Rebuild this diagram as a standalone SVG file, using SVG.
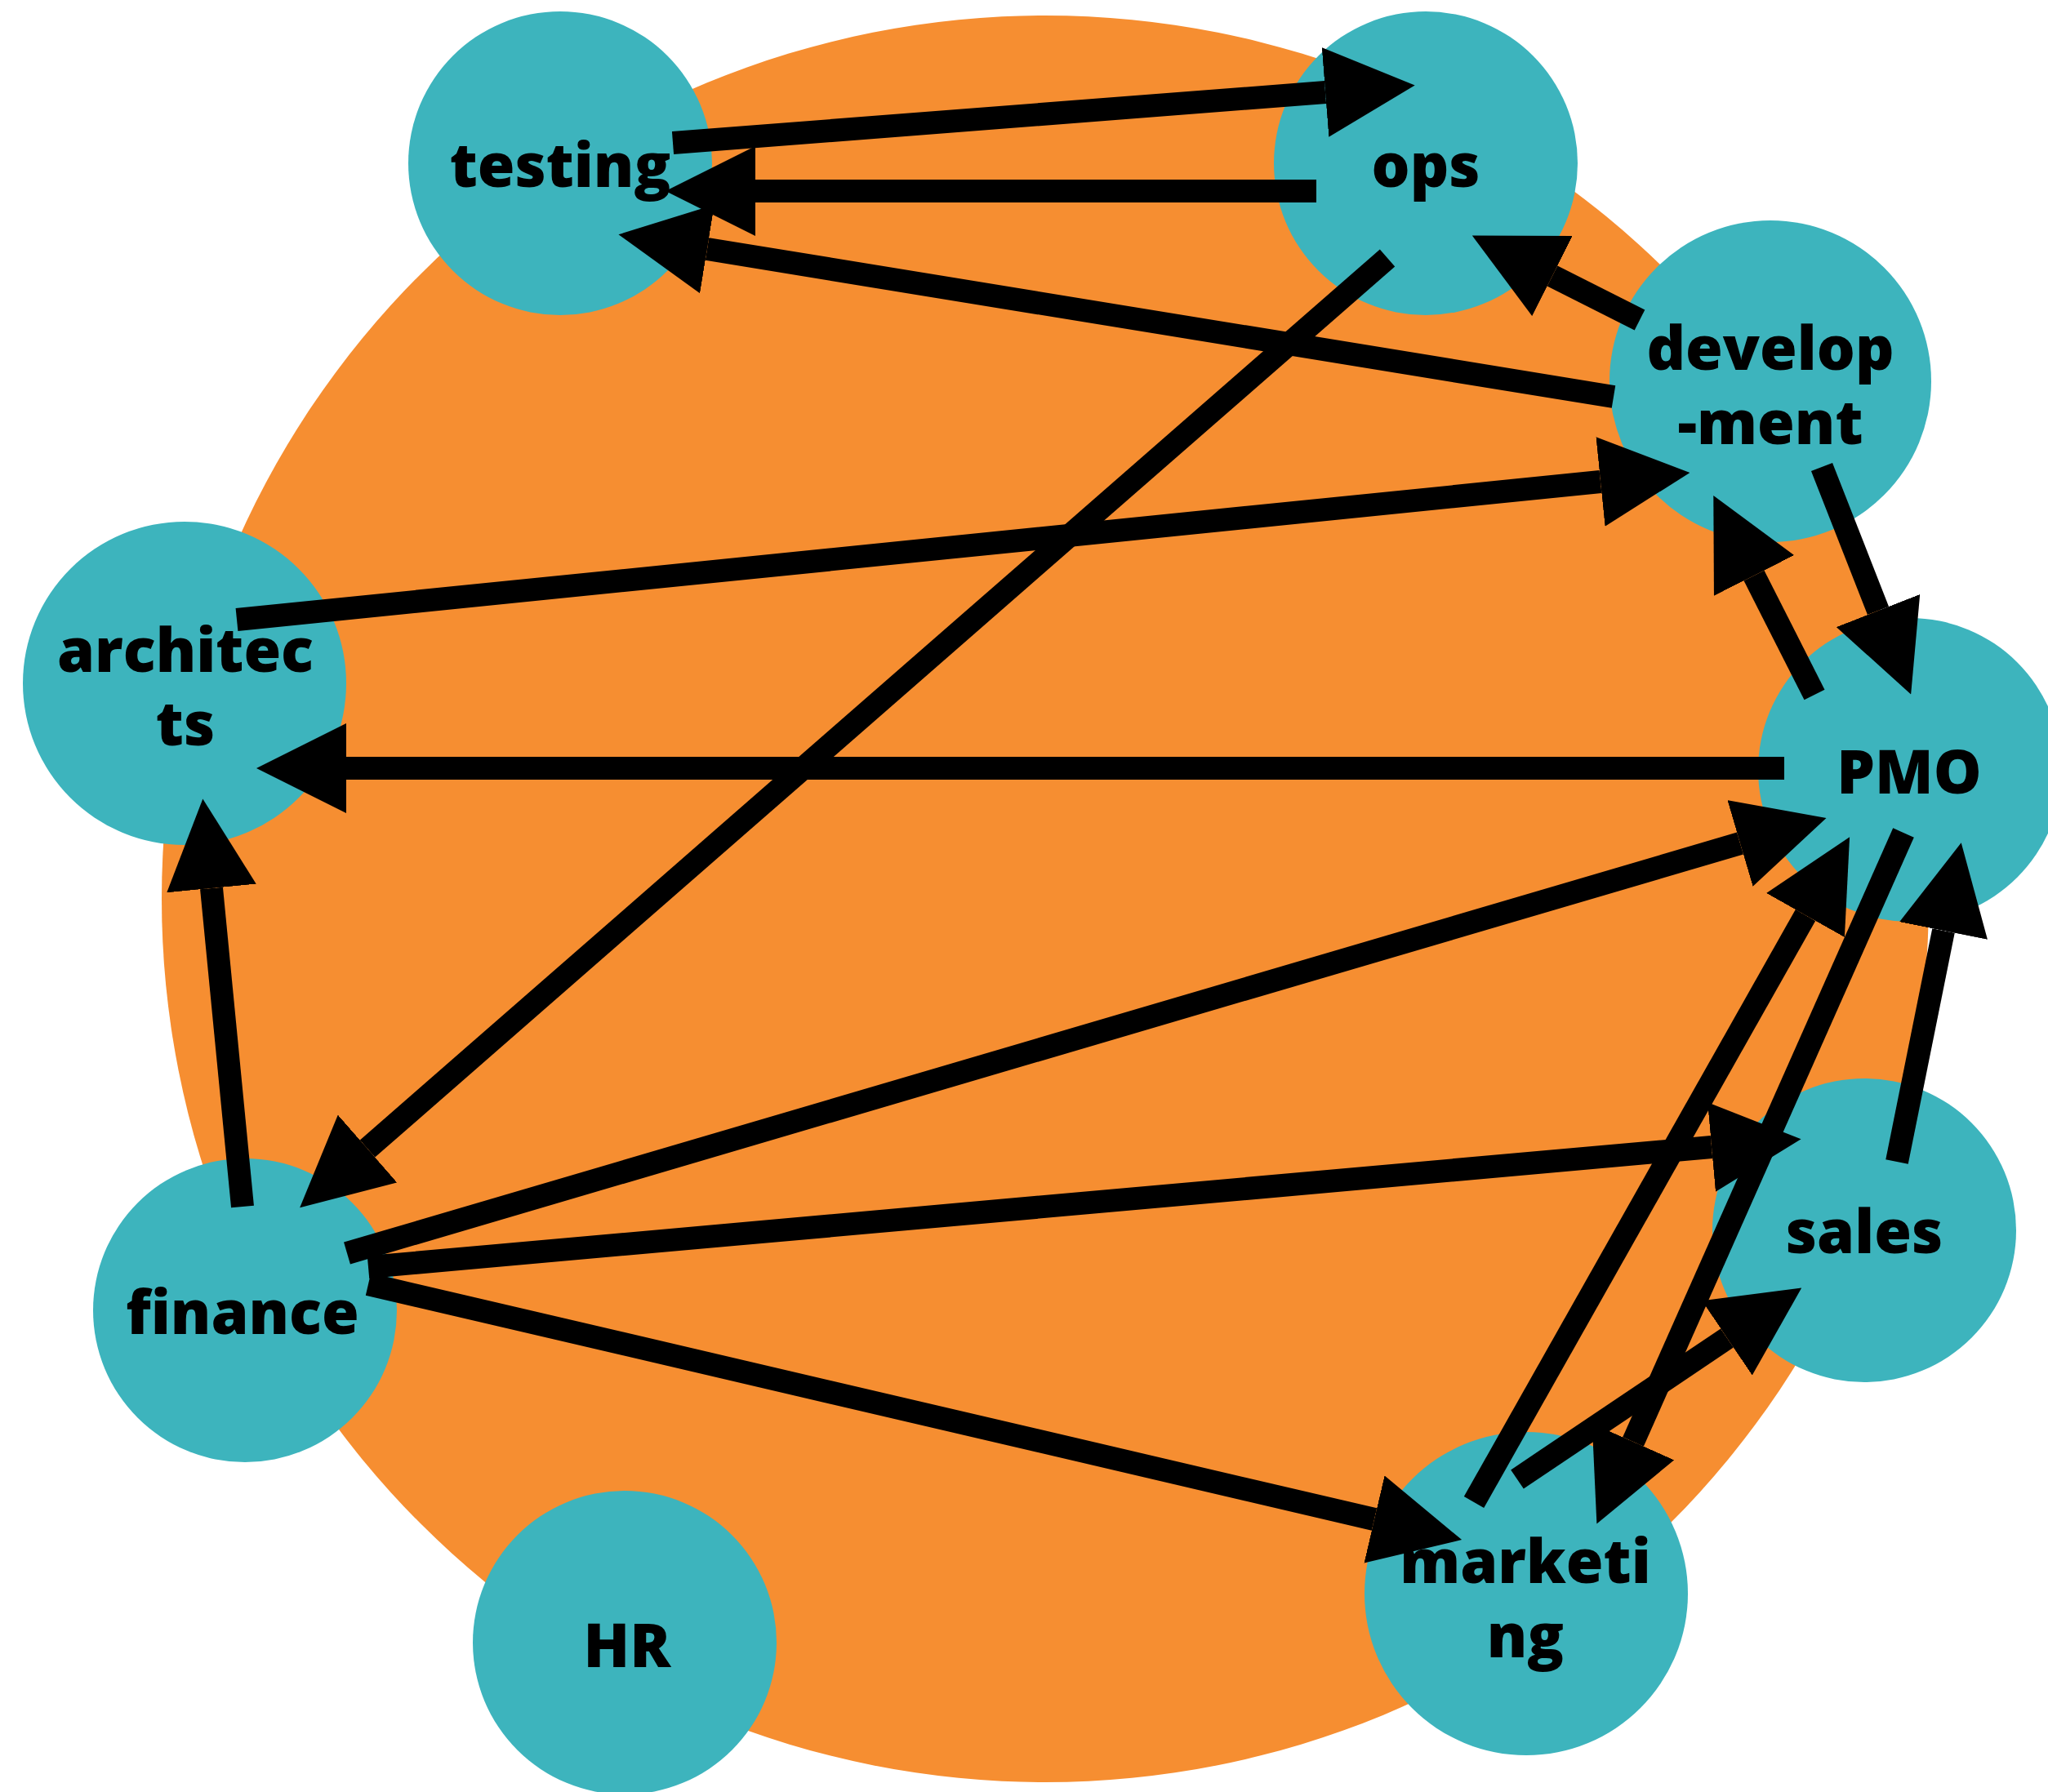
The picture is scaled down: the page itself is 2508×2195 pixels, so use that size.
<svg xmlns="http://www.w3.org/2000/svg" width="2508" height="2195" viewBox="0 0 2508 2195">
  <style>
    .node { fill: #3DB4BD; }
    .label { font-family: "Open Sans", "Liberation Sans", sans-serif; font-weight: 800; font-size: 74px; fill: #000; text-anchor: middle; }
    .edge { stroke: #000; stroke-width: 28; fill: none; marker-end: url(#head); }
  </style>
  <defs>
    <marker id="head" markerUnits="userSpaceOnUse" markerWidth="110" markerHeight="110" viewBox="0 0 110 110" refX="0" refY="55" orient="auto">
      <path d="M0,0 L110,55 L0,110 Z" fill="#000"/>
    </marker>
  </defs>

  <rect width="2508" height="2195" fill="#fff"/>
  <!-- backdrop disc -->
  <circle cx="1280" cy="1101" r="1082" fill="#F68E31"/>

  <g id="testing"><circle class="node" cx="686" cy="200" r="186"/><text class="label" x="686" y="229">testing</text></g>
  <g id="ops"><circle class="node" cx="1746" cy="200" r="186"/><text class="label" x="1746" y="229">ops</text></g>
  <g id="development"><circle class="node" cx="2168" cy="467" r="197"/><text class="label" x="2168" y="453">develop</text><text class="label" x="2168" y="544">-ment</text></g>
  <g id="architects"><circle class="node" cx="226" cy="837" r="198"/><text class="label" x="227" y="823">architec</text><text class="label" x="227" y="913">ts</text></g>
  <g id="PMO"><circle class="node" cx="2339" cy="943" r="186"/><text class="label" x="2338" y="972">PMO</text></g>
  <g id="sales"><circle class="node" cx="2283" cy="1507" r="186"/><text class="label" x="2283" y="1535">sales</text></g>
  <g id="marketing"><circle class="node" cx="1869" cy="1952" r="198"/><text class="label" x="1868" y="1939">marketi</text><text class="label" x="1868" y="2030">ng</text></g>
  <g id="finance"><circle class="node" cx="300" cy="1605" r="186"/><text class="label" x="297" y="1634">finance</text></g>
  <g id="HR"><circle class="node" cx="765" cy="2012" r="186"/><text class="label" x="768" y="2042">HR</text></g>

  <g id="connectors">
    <line class="edge" x1="824" y1="175" x2="1623" y2="113"/>
    <line class="edge" x1="1612" y1="234" x2="925" y2="234"/>
    <line class="edge" x1="1976" y1="486" x2="866" y2="305"/>
    <line class="edge" x1="2008" y1="392" x2="1901" y2="338"/>
    <line class="edge" x1="1699" y1="316" x2="450" y2="1407"/>
    <line class="edge" x1="290" y1="759" x2="1960" y2="590"/>
    <line class="edge" x1="2185" y1="941" x2="424" y2="941"/>
    <line class="edge" x1="297" y1="1478" x2="259" y2="1088"/>
    <line class="edge" x1="2231" y1="572" x2="2300" y2="748"/>
    <line class="edge" x1="2222" y1="851" x2="2148" y2="705"/>
    <line class="edge" x1="425" y1="1535" x2="2131" y2="1033"/>
    <line class="edge" x1="451" y1="1552" x2="2096" y2="1405"/>
    <line class="edge" x1="451" y1="1573" x2="1683" y2="1861"/>
    <line class="edge" x1="1805" y1="1840" x2="2211" y2="1121"/>
    <line class="edge" x1="2331" y1="1020" x2="2000" y2="1766"/>
    <line class="edge" x1="1858" y1="1812" x2="2115" y2="1639"/>
    <line class="edge" x1="2323" y1="1423" x2="2380" y2="1140"/>
  </g>
</svg>
